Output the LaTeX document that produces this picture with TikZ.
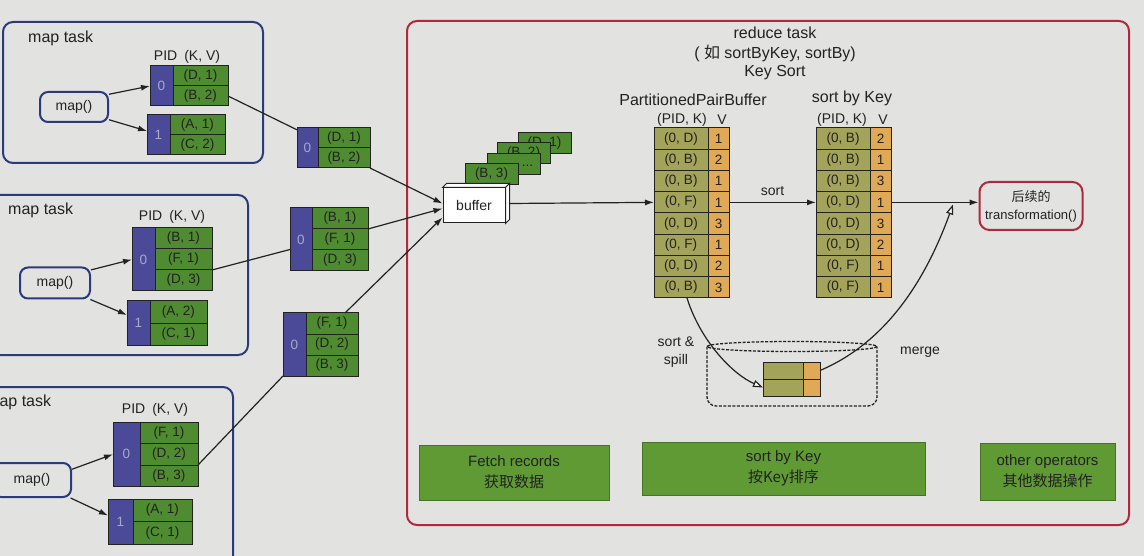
\documentclass[tikz,border=0pt]{standalone}
\usepackage{fontspec}
\setmainfont{Liberation Sans}
\newfontfamily\cjk{Noto Sans CJK SC}
\usetikzlibrary{arrows.meta}
\definecolor{bg}{HTML}{E2E2E0}
\definecolor{kvgreen}{HTML}{4F8B30}
\definecolor{pidblue}{HTML}{4B4A98}
\definecolor{pidtext}{HTML}{A8A8C8}
\definecolor{olivec}{HTML}{A3A35A}
\definecolor{orngc}{HTML}{E0A955}
\definecolor{boxblue}{HTML}{2B3A7A}
\definecolor{redbox}{HTML}{B0283E}
\definecolor{btmgreen}{HTML}{5F9A34}
\definecolor{ink}{HTML}{222222}
\tikzset{
  cellbase/.style={draw=ink, line width=1pt, inner sep=0pt, outer sep=0pt, anchor=north west, font=\fontsize{13.5}{15}\selectfont, text=ink},
  gcell/.style={cellbase, fill=kvgreen},
  bcell/.style={cellbase, fill=pidblue, text=pidtext},
  ocell/.style={cellbase, fill=olivec},
  vcell/.style={cellbase, fill=orngc},
  taskbox/.style={draw=boxblue, line width=2pt, rounded corners=10pt},
  mapfn/.style={draw=boxblue, line width=2pt, rounded corners=8pt, inner sep=0pt, font=\fontsize{14}{16}\selectfont, text=ink},
  lbl/.style={font=\fontsize{16}{18}\selectfont, text=ink, inner sep=0pt},
  small/.style={font=\fontsize{14}{18}\selectfont, text=ink, inner sep=0pt, align=center},
  conn/.style={draw=ink, line width=1.2pt},
  arr/.style={conn, -{Latex[length=9pt,width=6pt]}},
  oarr/.style={conn, -{Triangle[length=10pt,width=7pt,fill=white]}},
  btm/.style={fill=btmgreen, draw=btmgreen!75!black, line width=0.6pt, align=center, font=\fontsize{15}{21}\selectfont, text=ink, inner sep=0pt},
  rec/.style={gcell, minimum width=53pt, minimum height=21pt},
  cyl/.style={draw=ink, line width=1.3pt, dash pattern=on 3pt off 1.5pt},
}
\newcommand\kvtab[9]{%
  \node[bcell, minimum width=#4pt, minimum height=#8*#6pt] (#1-p) at (#2,#3) {#7};
  \foreach \rk/\rv [count=\ri] in {#9}{%
    \node[gcell, minimum width=#5pt, minimum height=#6pt] (#1-\ri) at ({#2+#4},{#3+(\ri-1)*#6}) {(\rk, \rv)};
  }%
}
\newcommand\pktab[4]{%
  \foreach \rk/\rv [count=\ri] in {#4}{%
    \node[ocell, minimum width=54pt, minimum height=21.25pt] (#1-\ri) at (#2,{#3+(\ri-1)*21.25}) {(0, \rk)};
    \node[vcell, minimum width=21pt, minimum height=21.25pt] (#1v-\ri) at ({#2+54},{#3+(\ri-1)*21.25}) {\rv};
  }%
}
\begin{document}
\begin{tikzpicture}[x=1pt,y=-1pt]
\useasboundingbox (0,0) rectangle (1144,556);
\fill[bg] (0,0) rectangle (1144,556);
\clip (0,0) rectangle (1144,556);

% ---------- map task 1
\draw[taskbox] (3,22) rectangle (263,163);
\node[lbl, anchor=west] (mt1) at (28,38) {map task};
\node[small] (ph1) at (187,57) {PID\hspace{0.5em}(K, V)};
\kvtab{t1a}{150}{66}{23}{55}{20}{0}{2}{D/1,B/2}
\kvtab{t1b}{147}{115}{23}{55}{20}{1}{2}{A/1,C/2}
\node[mapfn, minimum width=68pt, minimum height=30pt] (m1) at (74,107) {map()};
\draw[arr] (m1.20) -- (t1a-p.west);
\draw[arr] (m1.-20) -- ([yshift=4pt]t1b-p.west);

% ---------- map task 2
\draw[taskbox] (-10,195) rectangle (248,355);
\node[lbl, anchor=west] (mt2) at (8,210) {map task};
\node[small] (ph2) at (172,217) {PID\hspace{0.5em}(K, V)};
\kvtab{t2a}{132}{228}{23}{57}{21}{0}{3}{B/1,F/1,D/3}
\kvtab{t2b}{127}{301}{23}{57}{22}{1}{2}{A/2,C/1}
\node[mapfn, minimum width=70pt, minimum height=31pt] (m2) at (55,283) {map()};
\draw[arr] (m2.20) -- (t2a-p.west);
\draw[arr] (m2.-25) -- ([yshift=8pt]t2b-p.west);

% ---------- map task 3 (left part runs off the page)
\draw[taskbox] (-20,387) rectangle (233,590);
\node[lbl, anchor=west] (mt3) at (-14,402) {map task};
\node[small] (ph3) at (155,410) {PID\hspace{0.5em}(K, V)};
\kvtab{t3a}{113}{422}{27}{58}{21.5}{0}{3}{F/1,D/2,B/3}
\kvtab{t3b}{108}{499}{25}{59}{22.5}{1}{2}{A/1,C/1}
\node[mapfn, minimum width=78pt, minimum height=34pt] (m3) at (32,480) {map()};
\draw[arr] (m3.15) -- (t3a-p.west);
\draw[arr] (m3.-25) -- ([yshift=6pt]t3b-p.west);

% ---------- reduce task frame
\draw[draw=redbox, line width=2pt, rounded corners=10pt] (407,21) rectangle (1129,525);
\node[lbl] (rt1) at (775,33) {reduce task};
\node[lbl] (rt2) at (775,53) {( {\cjk 如} sortByKey, sortBy)};
\node[lbl] (rt3) at (775,73) {Key Sort};

% ---------- output partitions
\kvtab{o1}{297}{128}{21}{52}{20}{0}{2}{D/1,B/2}
\kvtab{o2}{290}{208}{22}{56}{21}{0}{3}{B/1,F/1,D/3}
\kvtab{o3}{283}{313}{23}{52}{21}{0}{3}{F/1,D/2,B/3}
\draw[conn] (t1a-2.east) -- (o1-p.120);
\draw[conn] (t2a-3.north east) -- ([yshift=-10pt]o2-p.west);
\draw[conn] (t3a-3.north east) -- (o3-p.south west);

% ---------- fetched record stack
\node[rec] (r4) at (518,133) {(D, 1)};
\node[rec] (r3) at (497,143) {(B, 2)};
\node[rec] (r2) at (487,154) {\hspace*{28pt}\raisebox{-4pt}{...}};
\node[rec] (r1) at (465,164) {(B, 3)};

% ---------- buffer
\node[draw=ink, line width=1pt, fill=white, minimum width=62pt, minimum height=35pt, inner sep=0pt,
      font=\fontsize{14}{16}\selectfont, text=ink] (buf) at (474,205.5) {buffer};
\draw[draw=ink, line width=1pt, fill=white] (buf.north west) -- ++(4,-4) -- ([shift={(4,-4)}]buf.north east) -- (buf.north east) -- cycle;
\draw[draw=ink, line width=1pt, fill=white] (buf.north east) -- ++(4,-4) -- ([shift={(4,-4)}]buf.south east) -- (buf.south east) -- cycle;

\draw[arr] (o1-2.south east) -- ([yshift=2pt]buf.west);
\draw[arr] (o2-1.south east) -- ([yshift=-3pt]buf.west);
\draw[arr] ([xshift=13pt]o3-1.north) -- ([yshift=-12pt]buf.west);

% ---------- PartitionedPairBuffer
\node[lbl] (pl) at (693,100) {PartitionedPairBuffer};
\node[small] (pk1) at (682,120) {(PID, K)};
\node[small] (pv1) at (722,120) {V};
\pktab{ppb}{654}{128}{D/1,B/2,B/1,F/1,D/3,F/1,D/2,B/3}

% ---------- sorted
\node[lbl] (sl) at (852,98) {sort by Key};
\node[small] (pk2) at (842,120) {(PID, K)};
\node[small] (pv2) at (883,120) {V};
\pktab{srt}{816}{128}{B/2,B/1,B/3,D/1,D/3,D/2,F/1,F/1}

% ---------- transformation
\node[draw=redbox, line width=2pt, rounded corners=10pt, minimum width=103pt, minimum height=48pt, inner sep=0pt,
      align=center, font=\fontsize{13}{18}\selectfont, text=ink] (tf) at (1031,206) {{\cjk 后续的}\\transformation()};

\draw[arr] ([shift={(4,-2)}]buf.east) -- (ppb-4.west);
\draw[arr] (ppbv-4.east) -- (srt-4.west) node[midway, above=6pt, small] (sortlbl) {sort};
\draw[arr] (srtv-4.east) -- (tf.west |- srtv-4.east);
\coordinate (mg) at (953,204.5);

% ---------- spill disk
\draw[cyl] (792,346.5) ellipse [x radius=85, y radius=5];
\draw[cyl, rounded corners=9pt] (707,346.5) -- (707,406) -- (877,406) -- (877,346.5);
\node[ocell, minimum width=40pt, minimum height=17pt] (dk-1) at (763,362) {};
\node[vcell, minimum width=17pt, minimum height=17pt] (dkv-1) at (803,362) {};
\node[ocell, minimum width=40pt, minimum height=17pt] (dk-2) at (763,379) {};
\node[vcell, minimum width=17pt, minimum height=17pt] (dkv-2) at (803,379) {};

\draw[oarr] ([xshift=6pt]ppb-8.south) .. controls (700,340) and (732,374) .. (dk-2.west);
\draw[oarr] (dkv-1.east) .. controls (880,345) and (922,290) .. (mg);
\node[small] (spl) at (676,352) {sort \&\\spill};
\node[small] (mrg) at (920,352) {merge};

% ---------- bottom stage boxes
\node[btm, minimum width=190pt, minimum height=55pt] (fetch) at (514,472.5) {Fetch records\\{\cjk 获取数据}};
\node[btm, minimum width=283pt, minimum height=53pt] (skey) at (783.5,468.5) {sort by Key\\{\cjk 按Key排序}};
\node[btm, minimum width=135pt, minimum height=57pt] (oth) at (1047.5,471.5) {other operators\\{\cjk 其他数据操作}};
\end{tikzpicture}
\end{document}
